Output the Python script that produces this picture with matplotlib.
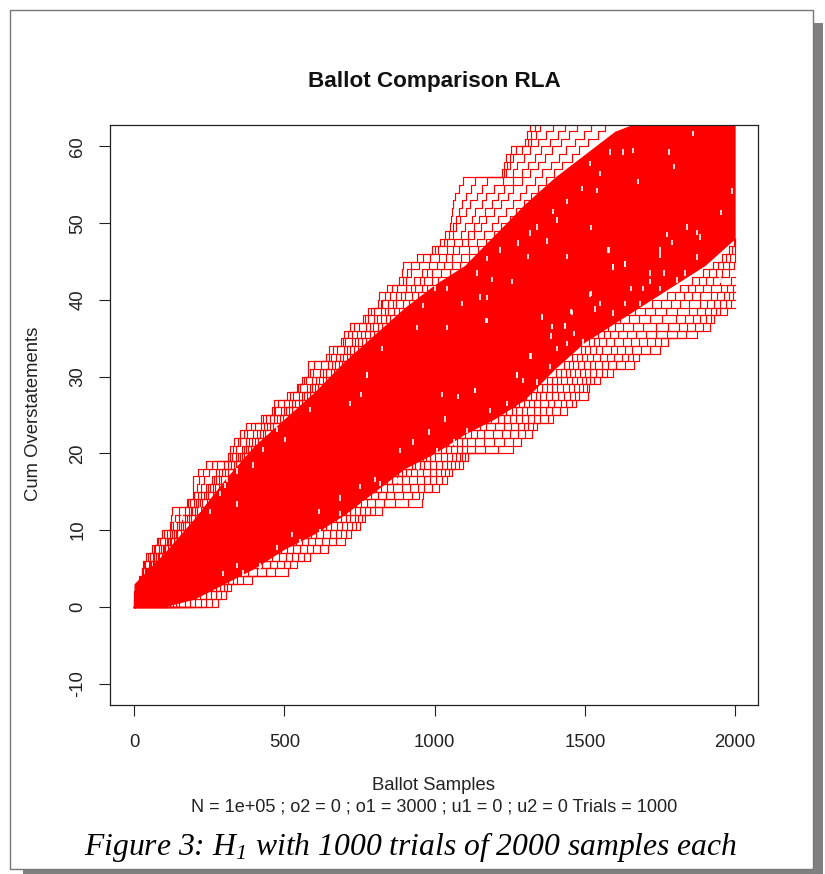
import numpy as np
import matplotlib
matplotlib.use("Agg")
import matplotlib.pyplot as plt
from matplotlib.patches import Rectangle

plt.rcParams['font.family'] = ['Liberation Sans', 'DejaVu Sans']
plt.rcParams['mathtext.fontset'] = 'custom'
plt.rcParams['mathtext.it'] = 'Liberation Serif:italic'
plt.rcParams['mathtext.rm'] = 'Liberation Serif:italic'
plt.rcParams['axes.unicode_minus'] = False

# sample number at which each trial reaches count 1, 2, 3 ...
top_edge = [0,1,4,18,25,31,39,61,75,94,118,122,125,177,195,196,197,212,239,313,319,334,353,372,422,460,464,508,541,560,578,580,640,649,689,700,719,763,780,813,816,841,883,893,896,940,993,1018,1035,1051,1055,1057,1060,1068,1082,1094,1223,1231,1238,1253,1301,1306,1318]
top_g = [1,2,6,20,27,34,45,66,80,100,122,135,150,180,198,210,216,230,258,320,330,345,365,388,430,465,480,518,546,566,586,600,648,662,696,712,733,770,790,820,834,858,894,908,922,962,1002,1030,1048,1062,1070,1080,1090,1104,1120,1135,1230,1240,1250,1272,1310,1320,1335]
top_a = [1,3,9,22,30,38,52,70,88,108,128,150,168,185,201,222,234,250,276,326,340,352,376,402,438,470,498,530,552,572,596,622,655,676,702,724,748,778,800,826,852,874,905,922,948,985,1012,1042,1060,1072,1086,1104,1118,1140,1158,1176,1236,1250,1262,1290,1320,1336,1352]
top_b = [2,6,14,26,36,50,62,84,102,120,142,158,182,199,214,238,258,272,300,338,358,374,396,424,452,488,516,548,574,592,618,646,672,698,724,742,772,798,822,844,870,906,932,958,982,1016,1040,1066,1088,1102,1124,1136,1158,1172,1196,1228,1262,1274,1298,1316,1344,1372,1394]
top_h = [2,7,16,28,40,54,68,90,108,126,150,168,188,206,224,246,266,284,312,346,366,384,408,434,464,498,526,558,584,606,630,658,684,710,736,756,786,810,836,860,888,922,950,976,1008,1038,1062,1090,1110,1130,1148,1168,1192,1210,1230,1260,1290,1310,1334,1354,1384,1410,1434]
top_c = [2,8,18,30,44,58,74,96,112,132,156,176,194,212,232,252,274,294,322,352,372,392,418,444,476,506,536,566,592,616,640,668,694,718,744,768,796,820,846,872,902,936,964,992,1030,1058,1082,1112,1132,1156,1172,1198,1222,1244,1262,1292,1316,1344,1368,1392,1422,1448,1474]
top_i = [3,9,20,33,48,62,80,100,118,138,164,184,202,220,240,262,284,304,332,360,380,404,428,454,486,516,548,576,602,630,654,682,708,732,760,784,812,838,866,896,926,958,990,1022,1058,1088,1116,1142,1166,1190,1212,1236,1260,1284,1304,1334,1358,1386,1414,1438,1468,1498,1522]
top_d = [3,10,22,36,52,66,84,104,122,144,170,190,208,226,246,268,290,312,338,366,388,412,436,462,494,524,558,586,612,640,664,692,718,744,772,798,826,852,880,914,946,976,1012,1050,1084,1116,1146,1172,1196,1222,1250,1272,1296,1322,1344,1372,1398,1424,1456,1482,1512,1544,1568]
top_e = [4,12,26,40,58,74,94,112,132,156,182,204,222,242,262,284,306,330,356,384,408,430,456,484,516,548,582,612,642,668,696,724,752,782,812,846,878,912,948,984,1018,1054,1098,1132,1168,1196,1224,1256,1284,1312,1336,1362,1392,1416,1444,1472,1502,1538,1570,1596,1632,1664,1702]
top_f = [5,14,30,46,64,82,102,122,142,166,190,214,232,252,274,296,318,342,370,398,422,448,474,500,534,570,606,638,668,700,730,762,796,830,866,902,944,984,1022,1058,1098,1134,1170,1206,1240,1272,1304,1332,1358,1388,1416,1442,1470,1498,1526,1558,1592,1622,1654,1690,1722,1762,1810]

low_edge = [279,306,323,393,511,541,586,646,702,721,752,769,824,959,963,1013,1042,1057,1096,1112,1260,1288,1323,1340,1395,1442,1471,1512,1515,1551,1595,1664,1679,1751,1775,1873,1917,1930,1972]
low_a = [258,290,310,362,470,520,566,620,672,706,738,758,802,912,948,990,1026,1048,1080,1102,1212,1262,1300,1326,1376,1416,1456,1482,1506,1532,1574,1632,1660,1716,1752,1838,1892,1918,1950,1986]
low_b = [240,272,298,344,438,498,546,596,648,690,724,746,784,868,926,966,1006,1036,1068,1092,1168,1232,1278,1312,1352,1392,1438,1466,1494,1518,1556,1602,1644,1686,1732,1806,1868,1904,1936,1968,1994]
low_c = [222,256,286,328,408,476,526,574,624,672,708,734,768,832,896,944,986,1022,1056,1084,1134,1198,1252,1296,1332,1372,1420,1450,1480,1504,1536,1578,1622,1658,1706,1772,1840,1884,1918,1950,1980]
low_d = [204,238,272,312,380,452,504,552,602,652,692,720,752,802,866,918,964,1004,1042,1072,1108,1164,1224,1276,1312,1352,1398,1432,1464,1490,1518,1556,1598,1632,1680,1738,1812,1860,1898,1930,1962,1992]
low_e = [186,220,258,296,356,426,482,530,580,630,676,704,736,776,838,890,942,984,1024,1058,1090,1134,1194,1254,1292,1330,1376,1412,1446,1474,1500,1534,1574,1608,1652,1704,1776,1832,1874,1906,1940,1972]
low_f = [168,204,244,282,336,400,458,508,558,606,656,688,720,756,812,862,916,962,1006,1042,1074,1108,1164,1230,1270,1308,1352,1390,1426,1458,1484,1516,1550,1586,1626,1670,1736,1802,1848,1884,1918,1952,1986]
low_g = [150,190,230,268,318,380,440,490,540,590,640,672,704,740,790,840,892,940,984,1020,1056,1092,1140,1200,1252,1290,1332,1372,1406,1440,1466,1496,1526,1558,1596,1640,1694,1756,1808,1848,1884,1918,1950,1980,1996]
low_h = [140,180,220,256,304,362,422,474,524,574,624,658,690,726,772,822,874,922,966,1002,1038,1076,1120,1172,1232,1272,1314,1352,1390,1422,1450,1478,1508,1536,1570,1610,1660,1716,1770,1816,1856,1892,1926,1956,1978,1998]
low_i = [130,170,210,246,292,348,406,460,510,560,610,644,678,712,756,806,858,906,950,986,1022,1060,1102,1150,1210,1256,1298,1336,1374,1406,1436,1462,1490,1518,1548,1584,1628,1680,1734,1786,1830,1868,1904,1936,1960,1984,1998]
low_j = [120,160,200,236,282,336,392,446,496,546,598,632,666,698,742,792,842,890,936,972,1008,1046,1086,1132,1188,1238,1282,1320,1358,1390,1420,1446,1474,1502,1530,1562,1600,1646,1700,1752,1800,1842,1880,1914,1944,1970,1990,1999]
low_k = [110,150,192,228,272,326,380,434,486,536,588,622,656,688,730,780,830,878,924,960,996,1034,1072,1114,1166,1220,1266,1304,1342,1374,1404,1432,1458,1486,1514,1544,1576,1618,1668,1722,1772,1816,1858,1894,1926,1956,1980,1996]

# the saturated middle of the bundle, where the 1000 trials overlap completely
core_x = [0,100,200,300,400,500,600,700,800,900,1000,1100,1200,1300,1400,1500,1600,1700,1800,1900,2000]
core_low = [0,0,1,3,5,7.5,9.5,12,15,18,20,22.5,24.5,27,31,34.5,37,39.5,42,44.5,48]
core_high = [3,7,11.5,16.5,21,24.5,28,32,35.5,39,42,44.5,48.5,52.5,56,59,62,63.5,64,64,64]

# small white gaps left inside the mass (sample, count)
gap_x = [1781,1859,1795,1676,1952,1839,1520,1772,1789,1375,1279,1578,1440,1312,1257,1190,1151,1173,1090,1356,1173,1040,941,1517,1456,1390,1434,1318,1273,1595,1634,1750,1872,1989,1883,342,286,302,502,752,686,614,526,342,296,719,754,774,824,774,1024,1079,1135,1035,982,929,885,1171,1356,1390,1464,1386,1320,1134,1273,1406,1434,
         1520,1551,1455,1534,1595,1634,1684,1654,1695,1717,1762,1834,1751,1873,1917,1950,1579,1717,1806,1595,1634,1751,
         1540,1490,1440,1406,1340,1318,1584,1628,1661,1551,1517,1395,1218,1173,1140,1040,1002,963,
         253,220,159,136,342,308,397,430,475,586,364,419,475,552,619,685,763,802,
         1107,1063,1007,946,874,819,1340,1295,1240,1184,1384,1440,1495]
gap_y = [59.3,61.7,57.4,55.4,51.4,49.5,49.4,48.5,47.5,47.7,47.4,46.5,45.7,45.7,42.4,42.7,40.4,40.3,39.5,37.7,37.3,36.4,36.4,40.7,38.4,36.5,36.6,32.7,30.2,44.3,44.7,45.8,48.8,54.2,48.2,13.4,14.8,15.8,21.8,15.7,14.2,12.4,9.4,5.4,4.3,26.5,27.7,30.2,33.7,30.2,27.7,27.4,28.2,24.5,22.8,21.5,20.4,37.3,37.8,36.5,35.6,35.3,32.7,28.2,30.2,33.7,36.7,
         40.8,39.5,38.5,38.8,38.3,39.5,39.5,41.5,41.5,43.5,43.5,43.5,41.5,45.6,44.5,42.6,46.5,42.4,42.6,44.3,44.7,46.5,
         54.3,54.5,52.8,50.4,49.5,48.7,59.3,59.3,59.5,56.5,57.8,51.5,46.5,45.4,43.5,41.5,41.5,39.3,
         12.4,12.7,11.6,10.7,17.7,16.6,18.5,20.5,23.1,25.7,4.4,5.3,7.7,8.5,9.8,12.2,13.5,16.6,
         23,21.5,20.4,18.2,16.5,16.1,29.3,29.5,26.5,25.6,31.3,34.3,34.5]

trials = [top_edge, top_g, top_a, top_b, top_h, top_c, top_i, top_d, top_e, top_f,
          low_edge, low_a, low_b, low_c, low_d, low_e, low_f, low_g, low_h, low_i, low_j, low_k]

W, H = 825, 874
fig = plt.figure(figsize=(W / 100, H / 100), dpi=100, facecolor='white')


def box(x0, y0, x1, y1, **kw):
    # page rectangles, given in pixels from the top left
    fig.add_artist(Rectangle((x0 / W, 1 - y1 / H), (x1 - x0) / W, (y1 - y0) / H,
                             transform=fig.transFigure, **kw))


box(23, 23, 823, 876, facecolor='#808080', edgecolor='none', zorder=-3)
box(10, 10, 813, 869, facecolor='white', edgecolor='#777777', linewidth=1.0, zorder=-2)

ax = fig.add_axes([110 / W, 1 - 705 / H, 648 / W, 580 / H])
ax.fill_between(core_x, core_low, core_high, color='red', linewidth=0)
for hits in trials:
    xs = [0] + hits + [2000]
    ys = list(range(len(hits) + 1)) + [len(hits)]
    ax.step(xs, ys, where='post', color='red', linewidth=0.85)
ax.vlines(gap_x, np.array(gap_y) - 0.35, np.array(gap_y) + 0.35, color='white', linewidth=1.2)

ax.set_xlim(-80, 2076)
ax.set_ylim(-12.8, 62.8)
ax.set_xticks([0, 500, 1000, 1500, 2000])
ax.set_yticks([-10, 0, 10, 20, 30, 40, 50, 60])
ax.tick_params(axis='both', length=8, width=0.8, labelsize=13.3, color='#222222', labelcolor='#222222')
ax.tick_params(axis='x', pad=13)
ax.tick_params(axis='y', pad=9)
for lab in ax.get_yticklabels():
    lab.set_rotation(90)
    lab.set_va('center')
for s in ax.spines.values():
    s.set_linewidth(0.9)
    s.set_color('#222222')

fig.text(434 / W, 1 - 81 / H, 'Ballot Comparison RLA', ha='center', va='center',
         fontsize=16.2, fontweight='bold', color='#111111')
fig.text(34 / W, 1 - 414 / H, 'Cum Overstatements', rotation=90, ha='center', va='center',
         fontsize=13.3, color='#222222')
fig.text(434 / W, 1 - 785 / H, 'Ballot Samples', ha='center', va='center',
         fontsize=13.3, color='#222222')
fig.text(434 / W, 1 - 807 / H, 'N = 1e+05 ; o2 = 0 ; o1 = 3000 ; u1 = 0 ; u2 = 0 Trials = 1000',
         ha='center', va='center', fontsize=13.05, color='#222222')
fig.text(410.5 / W, 1 - 847 / H, 'Figure 3: H$_1$ with 1000 trials of 2000 samples each',
         ha='center', va='center', fontsize=22.8, family='Liberation Serif', style='italic', color='black')

fig.savefig('out.png', dpi=100)
